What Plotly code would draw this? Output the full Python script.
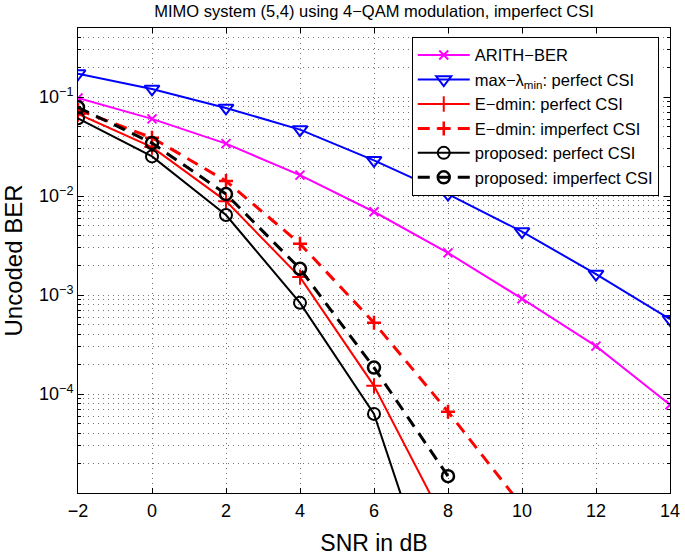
import math
import plotly.graph_objects as go

# ---- data ----
snr_full = [-2, 0, 2, 4, 6, 8, 10, 12, 14]
arith_ber = [0.098, 0.0604, 0.0339, 0.0163, 0.00695, 0.00267, 0.00092, 0.000305, 7.8e-5]
maxlam_ber = [0.173, 0.121, 0.0778, 0.047, 0.023, 0.0105, 0.00438, 0.00163, 0.00057]

snr_edmin_p = [-2, 0, 2, 4, 6, 8]
edmin_p_ber = [0.0677, 0.0313, 0.0089, 0.00152, 1.21e-4, 4.4e-6]
snr_edmin_ip = [-2, 0, 2, 4, 6, 8, 10]
edmin_ip_ber = [0.0743, 0.0389, 0.0142, 0.0033, 5.26e-4, 6.64e-5, 7.4e-6]
snr_prop_p = [-2, 0, 2, 4, 6, 8]
prop_p_ber = [0.0612, 0.0252, 0.00644, 8.35e-4, 6.3e-5, 3.6e-7]
snr_prop_ip = [-2, 0, 2, 4, 6, 8]
prop_ip_ber = [0.0789, 0.0344, 0.0105, 0.001845, 1.85e-4, 1.48e-5]

x_ticks = [-2, 0, 2, 4, 6, 8, 10, 12, 14]
y_major = [1e-4, 1e-3, 1e-2, 1e-1]
y_major_text = ["10<sup>\u22124</sup>", "10<sup>\u22123</sup>", "10<sup>\u22122</sup>", "10<sup>\u22121</sup>"]
y_min, y_max = 1e-5, 0.5

minor_vals = []
for d in range(-5, 0):
    for k in range(2, 10):
        v = k * 10 ** d
        if v <= y_max:
            minor_vals.append(v)

FONT = "Liberation Sans, Arial, Helvetica, sans-serif"

fig = go.Figure()

fig.add_trace(go.Scatter(
    x=snr_full, y=arith_ber, name="ARITH\u2212BER", mode="lines+markers",
    line=dict(color="#FF00FF", width=2),
    marker=dict(symbol="x-thin-open", size=9, line=dict(color="#FF00FF", width=2))))
fig.add_trace(go.Scatter(
    x=snr_full, y=maxlam_ber, name="max\u2212\u03bb<sub>min</sub>: perfect CSI", mode="lines+markers",
    line=dict(color="#0000FF", width=2),
    marker=dict(symbol="triangle-down-open", size=13, color="#0000FF", line=dict(color="#0000FF", width=2))))
fig.add_trace(go.Scatter(
    x=snr_edmin_p, y=edmin_p_ber, name="E\u2212dmin: perfect CSI", mode="lines+markers",
    line=dict(color="#FF0000", width=2),
    marker=dict(symbol="cross-thin-open", size=11, line=dict(color="#FF0000", width=2))))
fig.add_trace(go.Scatter(
    x=snr_edmin_ip, y=edmin_ip_ber, name="E\u2212dmin: imperfect CSI", mode="lines+markers",
    line=dict(color="#FF0000", width=3, dash="12px,8px"),
    marker=dict(symbol="cross-thin-open", size=10, line=dict(color="#E8261A", width=2.5))))
fig.add_trace(go.Scatter(
    x=snr_prop_p, y=prop_p_ber, name="proposed: perfect CSI", mode="lines+markers",
    line=dict(color="#000000", width=2),
    marker=dict(symbol="circle-open", size=12, color="#000000", line=dict(color="#000000", width=2))))
fig.add_trace(go.Scatter(
    x=snr_prop_ip, y=prop_ip_ber, name="proposed: imperfect CSI", mode="lines+markers",
    line=dict(color="#000000", width=3, dash="12px,8px"),
    marker=dict(symbol="circle-open", size=12, color="#000000", line=dict(color="#000000", width=2.5))))

grid_col = "rgba(70,70,70,0.75)"

fig.update_layout(
    width=685, height=557,
    margin=dict(l=78, r=15, t=28, b=64, autoexpand=False),
    paper_bgcolor="white", plot_bgcolor="white",
    font=dict(family=FONT, color="black"),
    title=dict(text="MIMO system (5,4) using 4\u2212QAM modulation, imperfect CSI",
               x=374 / 685, xanchor="center", y=1 - 11 / 557, yanchor="middle",
               font=dict(size=16.5, family=FONT, color="black")),
    showlegend=True,
    legend=dict(x=0.981, xanchor="right", y=0.981, yanchor="top",
                bgcolor="white", bordercolor="black", borderwidth=1,
                font=dict(size=16.5, family=FONT, color="black"),
                tracegroupgap=0, itemwidth=52),
    xaxis=dict(
        range=[-2, 14], tickmode="array", tickvals=x_ticks,
        ticktext=[("\u2212" + str(-t)) if t < 0 else str(t) for t in x_ticks],
        showline=True, linecolor="black", linewidth=1, mirror="ticks",
        ticks="inside", ticklen=5, tickcolor="black", ticklabelstandoff=1,
        showgrid=True, gridcolor=grid_col, griddash="1px,4px", gridwidth=1,
        zeroline=False, tickfont=dict(size=18, family=FONT), automargin=False,
        title=dict(text="SNR in dB", font=dict(size=23, family=FONT), standoff=15),
    ),
    yaxis=dict(
        type="log", range=[math.log10(y_min), math.log10(y_max)],
        tickmode="array", tickvals=y_major, ticktext=y_major_text,
        showline=True, linecolor="black", linewidth=1, mirror="ticks",
        ticks="inside", ticklen=6, tickcolor="black",
        showgrid=True, gridcolor=grid_col, griddash="1px,4px", gridwidth=1,
        zeroline=False, tickfont=dict(size=18, family=FONT), automargin=False,
        title=dict(text="Uncoded BER", font=dict(size=24, family=FONT), standoff=16),
        minor=dict(tickmode="array", tickvals=minor_vals, ticks="inside", ticklen=3,
                   tickcolor="black", showgrid=True, gridcolor=grid_col,
                   griddash="1px,4px", gridwidth=1),
    ),
)

fig.write_html("out.html", config={"displayModeBar": False},
               post_script="document.body.style.margin='0';")
